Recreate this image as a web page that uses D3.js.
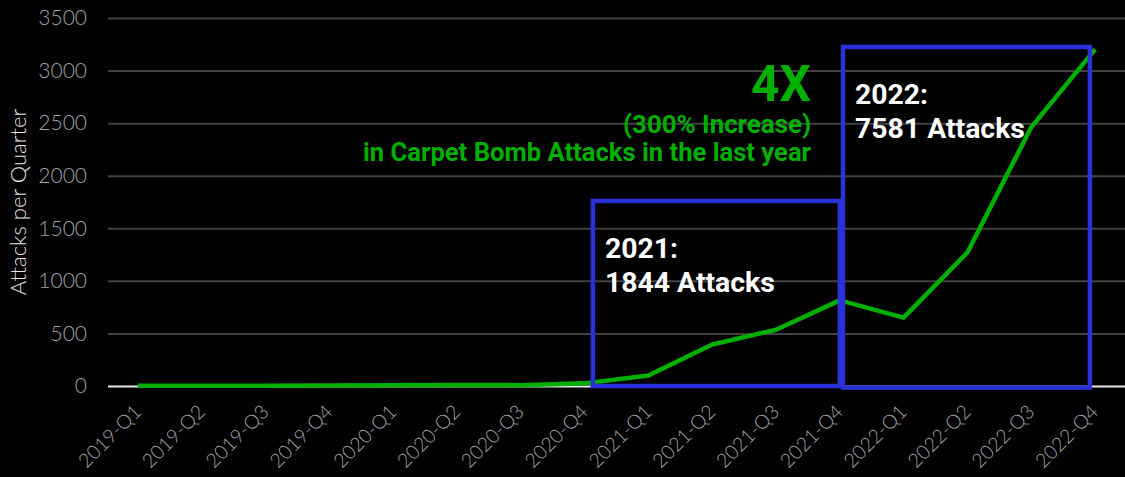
<!DOCTYPE html>
<html><head><meta charset="utf-8">
<script src="https://cdn.jsdelivr.net/npm/d3@7"></script>
<style>
html,body{margin:0;padding:0;background:#000;}
svg{display:block;}
</style></head>
<body>
<script>
const quarters = ["2019-Q1","2019-Q2","2019-Q3","2019-Q4","2020-Q1","2020-Q2","2020-Q3","2020-Q4",
  "2021-Q1","2021-Q2","2021-Q3","2021-Q4","2022-Q1","2022-Q2","2022-Q3","2022-Q4"];
const attacks = [2, 3, 3, 5, 6, 10, 8, 25, 100, 395, 535, 814, 650, 1270, 2460, 3201];
const yTicks = [0, 500, 1000, 1500, 2000, 2500, 3000, 3500];
// annotation boxes: start/end as fractional quarter index, top value
const boxStart = [7.13, 11.05];
const boxEnd = [11.0, 14.92];
const boxTop = [1760, 3225];
const boxBottom = [0, -15];
const boxLabels = [["2021:", "1844 Attacks"], ["2022:", "7581 Attacks"]];
const headline = ["4X", "(300% Increase)", "in Carpet Bomb Attacks in the last year"];

const W = 1125, H = 477;
const svg = d3.select("body").append("svg").attr("width", W).attr("height", H);
const plotL = 108, plotR = 1125, plotT = 18, plotB = 386;
const annFont = "Roboto, 'Noto Sans', sans-serif";

const x = d3.scalePoint().domain(quarters).range([plotL, plotR]).padding(0.47);
const xi = d3.scaleLinear().domain([0, quarters.length - 1]).range([x(quarters[0]), x(quarters[quarters.length - 1])]);
const y = d3.scaleLinear().domain([0, 3500]).range([plotB, plotT]);

function fit(sel, target, base) {
  sel.attr("font-size", base);
  const w = sel.node().getComputedTextLength();
  sel.attr("font-size", base * target / w);
  return sel;
}

// grid lines
const yAxis = d3.axisLeft(y).tickValues(yTicks).tickFormat(d3.format("d"))
  .tickSize(-(plotR - plotL)).tickPadding(21);
const gy = svg.append("g").attr("transform", `translate(${plotL},0)`).call(yAxis);
gy.select(".domain").remove();
gy.selectAll(".tick line").attr("stroke", d => d === 0 ? "#e8e8e8" : "#424242").attr("stroke-width", 2);
gy.selectAll(".tick text").attr("fill", "#a3a3a3").attr("font-family", "Lato, sans-serif")
  .attr("font-weight", 300).attr("font-size", 21);

// y title
svg.append("text").attr("transform", `translate(26,${(plotT + plotB) / 2}) rotate(-90)`)
  .attr("text-anchor", "middle").attr("fill", "#e6e6e6").attr("font-family", "Lato, sans-serif")
  .attr("font-weight", 300).attr("font-size", 22).text("Attacks per Quarter");

// x axis labels
const xAxis = d3.axisBottom(x).tickSize(0).tickPadding(0);
const gx = svg.append("g").attr("transform", `translate(0,${plotB})`).call(xAxis);
gx.select(".domain").remove();
gx.selectAll(".tick text")
  .attr("fill", "#a3a3a3").attr("font-family", "Lato, sans-serif").attr("font-weight", 300)
  .attr("font-size", 19.5).attr("text-anchor", "end")
  .attr("y", 0).attr("dy", 0)
  .attr("transform", "translate(4,27) rotate(-45)");

// line
const line = d3.line().x((d, i) => x(quarters[i])).y(d => y(d));
svg.append("path").datum(attacks).attr("d", line).attr("fill", "none")
  .attr("stroke", "#00b000").attr("stroke-width", 4.5).attr("stroke-linejoin", "round");

// boxes
boxStart.forEach((s, i) => {
  svg.append("rect").attr("x", xi(s)).attr("y", y(boxTop[i]))
    .attr("width", xi(boxEnd[i]) - xi(s)).attr("height", y(boxBottom[i]) - y(boxTop[i]))
    .attr("fill", "none").attr("stroke", "#2b31d9").attr("stroke-width", 4.5);
});
boxStart.forEach((s, i) => {
  const l2 = svg.append("text").attr("fill", "#fff").attr("font-family", annFont).attr("font-weight", 700)
    .attr("x", xi(s) + 12).attr("y", y(boxTop[i]) + 91).text(boxLabels[i][1]);
  fit(l2, 170, 27);
  svg.append("text").attr("fill", "#fff").attr("font-family", annFont).attr("font-weight", 700)
    .attr("font-size", l2.attr("font-size"))
    .attr("x", xi(s) + 12).attr("y", y(boxTop[i]) + 57).text(boxLabels[i][0]);
});

// headline
const hx = 811;
const h1 = svg.append("text").attr("x", hx).attr("y", 101).attr("text-anchor", "end").attr("fill", "#00b000")
  .attr("font-family", annFont).attr("font-weight", 700).text(headline[0]);
fit(h1, 60, 48);
const h2 = svg.append("text").attr("x", hx).attr("y", 133).attr("text-anchor", "end").attr("fill", "#00b000")
  .attr("font-family", annFont).attr("font-weight", 700).text(headline[1]);
fit(h2, 188, 22);
const h3 = svg.append("text").attr("x", hx).attr("y", 161).attr("text-anchor", "end").attr("fill", "#00b000")
  .attr("font-family", annFont).attr("font-weight", 700).text(headline[2]);
fit(h3, 448, 22);
</script>
</body></html>
